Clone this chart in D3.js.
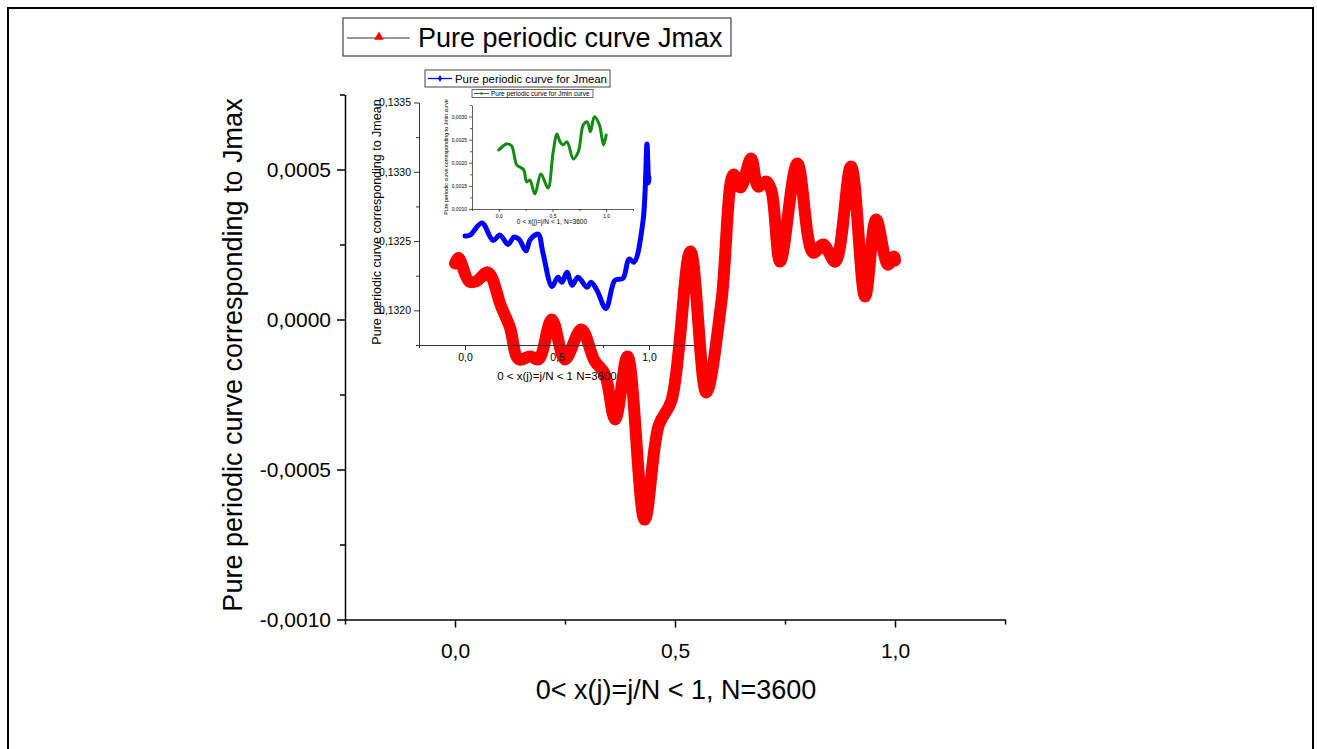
<!DOCTYPE html>
<html><head><meta charset="utf-8">
<script src="https://cdn.jsdelivr.net/npm/d3@7"></script>
<style>
body{margin:0;background:#fff}
svg{display:block}
text{font-family:"Liberation Sans",Arial,sans-serif;fill:#000}
</style>
</head><body>
<svg id="chart" width="1317" height="749"></svg>
<script>
// ---------- data ----------
const jmaxX = [0, 0.008, 0.032, 0.048, 0.075, 0.104, 0.125, 0.145, 0.171, 0.19, 0.22, 0.25, 0.287, 0.317, 0.34, 0.364, 0.392, 0.431, 0.463, 0.492, 0.535, 0.571, 0.605, 0.633, 0.649, 0.673, 0.689, 0.707, 0.719, 0.739, 0.778, 0.814, 0.837, 0.864, 0.9, 0.932, 0.957, 0.984, 0.998, 1.0];
const jmaxY = [0.000187, 0.000205, 0.000127, 0.000127, 0.000157, 0.000047, -0.000027, -0.000133, -0.000123, -0.000133, 0.0, -0.000133, -0.000033, -0.000137, -0.00018, -0.000333, -0.000123, -0.000667, -0.000353, -0.00027, 0.000227, -0.000243, 0.000053, 0.000483, 0.00044, 0.000537, 0.000443, 0.00046, 0.00043, 0.000193, 0.00052, 0.000223, 0.00025, 0.000193, 0.00051, 0.000077, 0.000333, 0.000183, 0.00021, 0.000197];

const jmeanX = [0, 0.027, 0.092, 0.152, 0.19, 0.234, 0.266, 0.293, 0.332, 0.353, 0.397, 0.424, 0.473, 0.505, 0.527, 0.554, 0.582, 0.614, 0.663, 0.685, 0.717, 0.766, 0.815, 0.859, 0.891, 0.918, 0.967, 0.989, 0.994, 0.998, 1.0];
const jmeanY = [0.132536, 0.132543, 0.13263, 0.132505, 0.132543, 0.132476, 0.132529, 0.132514, 0.13243, 0.132507, 0.13255, 0.132413, 0.132172, 0.132239, 0.132203, 0.132275, 0.132181, 0.132239, 0.132167, 0.132203, 0.132145, 0.132014, 0.132217, 0.132232, 0.13237, 0.132348, 0.132638, 0.1332, 0.13305, 0.13292, 0.13296];

const jminX = [0, 0.054, 0.082, 0.119, 0.166, 0.195, 0.232, 0.26, 0.289, 0.336, 0.392, 0.458, 0.505, 0.542, 0.57, 0.599, 0.636, 0.693, 0.74, 0.787, 0.824, 0.853, 0.89, 0.937, 0.975, 1.0];
const jminY = [0.002279, 0.002387, 0.002409, 0.002365, 0.001953, 0.00191, 0.001845, 0.001585, 0.001628, 0.001325, 0.001758, 0.001455, 0.002213, 0.002625, 0.002452, 0.002387, 0.002452, 0.002084, 0.002235, 0.00282, 0.002885, 0.002669, 0.002994, 0.00282, 0.002387, 0.0026];

const xTicks = [0, 0.5, 1];
const xTickLabels = ["0,0", "0,5", "1,0"];
const xMinorTicks = [-0.25, 0.25, 0.75, 1.25];

const mainYTicks = [-0.001, -0.0005, 0, 0.0005];
const mainYTickLabels = ["-0,0010", "-0,0005", "0,0000", "0,0005"];
const mainYMinor = [-0.00075, -0.00025, 0.00025, 0.00075];

const jmeanYTicks = [0.132, 0.1325, 0.133, 0.1335];
const jmeanYTickLabels = ["0,1320", "0,1325", "0,1330", "0,1335"];
const jmeanYMinor = [0.13175, 0.13225, 0.13275, 0.13325];

const jminYTicks = [0.001, 0.0015, 0.002, 0.0025, 0.003];
const jminYTickLabels = ["0,0010", "0,0015", "0,0020", "0,0025", "0,0030"];
const jminYMinor = [0.00125, 0.00175, 0.00225, 0.00275, 0.00325];

// ---------- drawing ----------
const svg = d3.select("#chart");
svg.append("rect").attr("x", 0).attr("y", 0).attr("width", 1317).attr("height", 749).attr("fill", "#fff");
svg.append("rect").attr("x", 8).attr("y", 8).attr("width", 1305).attr("height", 770)
  .attr("fill", "none").attr("stroke", "#000").attr("stroke-width", 2);

function axes(g, x, y, o) {
  const [x0] = x.range(); const [y0] = y.range();
  const bx = g.append("g").attr("transform", `translate(0,${y0})`)
    .call(d3.axisBottom(x).tickValues(o.xt).tickFormat((d, i) => o.xl[i])
      .tickSize(o.major).tickSizeOuter(0).tickPadding(o.xpad));
  const bxm = g.append("g").attr("transform", `translate(0,${y0})`)
    .call(d3.axisBottom(x).tickValues(o.xm).tickFormat("").tickSize(o.minor).tickSizeOuter(0));
  const ly = g.append("g").attr("transform", `translate(${x0},0)`)
    .call(d3.axisLeft(y).tickValues(o.yt).tickFormat((d, i) => o.yl[i])
      .tickSize(o.major).tickSizeOuter(0).tickPadding(o.ypad));
  const lym = g.append("g").attr("transform", `translate(${x0},0)`)
    .call(d3.axisLeft(y).tickValues(o.ym).tickFormat("").tickSize(o.minor).tickSizeOuter(0));
  [bx, bxm, ly, lym].forEach(a => {
    a.selectAll("path,line").attr("stroke", o.color).attr("stroke-width", o.sw);
    a.selectAll("text").attr("font-size", o.fs).attr("font-family", '"Liberation Sans",Arial,sans-serif').attr("fill", o.tcolor || "#000");
  });
  bxm.select(".domain").remove(); lym.select(".domain").remove();
}

function line(x, y) {
  return d3.line().x(d => x(d[0])).y(d => y(d[1])).curve(d3.curveCatmullRom.alpha(0.5));
}

// ---------- main chart ----------
const mx = d3.scaleLinear().domain([-0.25, 1.25]).range([345, 1005]);
const my = d3.scaleLinear().domain([-0.001, 0.00075]).range([619.5, 94.5]);
const gMain = svg.append("g");
axes(gMain, mx, my, {xt: xTicks, xl: xTickLabels, xm: xMinorTicks, yt: mainYTicks, yl: mainYTickLabels, ym: mainYMinor,
  major: 8, minor: 5, xpad: 16, ypad: 6, fs: 21, color: "#000", sw: 1.5});

svg.append("text").attr("transform", "translate(242,355) rotate(-90)").attr("text-anchor", "middle")
  .attr("font-size", 27).text("Pure periodic curve corresponding to Jmax");
svg.append("text").attr("x", 676).attr("y", 699).attr("text-anchor", "middle")
  .attr("font-size", 27).text("0< x(j)=j/N < 1, N=3600");

const jmax = jmaxX.map((v, i) => [v, jmaxY[i]]);
svg.append("path").attr("d", line(mx, my)(jmax)).attr("fill", "none").attr("stroke", "#ff0000")
  .attr("stroke-width", 12).attr("stroke-linejoin", "round").attr("stroke-linecap", "round");

// main legend
svg.append("rect").attr("x", 343).attr("y", 18).attr("width", 388).attr("height", 38)
  .attr("fill", "#fff").attr("stroke", "#444").attr("stroke-width", 1.2);
svg.append("line").attr("x1", 347).attr("x2", 410).attr("y1", 38).attr("y2", 38).attr("stroke", "#333").attr("stroke-width", 1);
svg.append("path").attr("d", d3.symbol(d3.symbolTriangle, 40)()).attr("transform", "translate(379,37)").attr("fill", "#ff0000");
svg.append("text").attr("x", 418).attr("y", 47).attr("font-size", 27).text("Pure periodic curve Jmax");

// ---------- Jmean inset ----------
const bx = d3.scaleLinear().domain([-0.25, 1.25]).range([419, 695]);
const by = d3.scaleLinear().domain([0.13175, 0.1335]).range([345, 102.5]);
const gB = svg.append("g");
axes(gB, bx, by, {xt: xTicks, xl: xTickLabels, xm: xMinorTicks, yt: jmeanYTicks, yl: jmeanYTickLabels, ym: jmeanYMinor,
  major: 5, minor: 3, xpad: 4, ypad: 3, fs: 10.5, color: "#333", sw: 1});
svg.append("text").attr("transform", "translate(381,222) rotate(-90)").attr("text-anchor", "middle")
  .attr("font-size", 12.5).text("Pure periodic curve corresponding to Jmean");
svg.append("text").attr("x", 557).attr("y", 380).attr("text-anchor", "middle")
  .attr("font-size", 11.5).text("0 < x(j)=j/N < 1 N=3600");
const jmean = jmeanX.map((v, i) => [v, jmeanY[i]]);
svg.append("path").attr("d", line(bx, by)(jmean)).attr("fill", "none").attr("stroke", "#0000ff")
  .attr("stroke-width", 5).attr("stroke-linejoin", "round").attr("stroke-linecap", "round");

svg.append("rect").attr("x", 425).attr("y", 70).attr("width", 185).attr("height", 17)
  .attr("fill", "#fff").attr("stroke", "#444").attr("stroke-width", 1);
svg.append("line").attr("x1", 428).attr("x2", 452).attr("y1", 78.5).attr("y2", 78.5).attr("stroke", "#0000ff").attr("stroke-width", 1.3);
svg.append("path").attr("d", d3.symbol(d3.symbolDiamond, 14)()).attr("transform", "translate(440,78.5)").attr("fill", "#0000ff");
svg.append("text").attr("x", 455).attr("y", 83).attr("font-size", 11.4).text("Pure periodic curve for Jmean");

// ---------- Jmin inset ----------
const gx = d3.scaleLinear().domain([-0.25, 1.25]).range([472, 633]);
const gy = d3.scaleLinear().domain([0.001, 0.00325]).range([209, 105]);
const gG = svg.append("g");
axes(gG, gx, gy, {xt: xTicks, xl: xTickLabels, xm: xMinorTicks, yt: jminYTicks, yl: jminYTickLabels, ym: jminYMinor,
  major: 3, minor: 2, xpad: 2, ypad: 2, fs: 5, color: "#333", sw: 0.8, tcolor: "#333"});
svg.append("text").attr("transform", "translate(448,157) rotate(-90)").attr("text-anchor", "middle")
  .attr("font-size", 5.4).attr("fill", "#333").text("Pure periodic curve corresponding to Jmin curve");
svg.append("text").attr("x", 552).attr("y", 224).attr("text-anchor", "middle")
  .attr("font-size", 6.6).attr("fill", "#333").text("0 < x(j)=j/N < 1, N=3600");
const jmin = jminX.map((v, i) => [v, jminY[i]]);
svg.append("path").attr("d", line(gx, gy)(jmin)).attr("fill", "none").attr("stroke", "#138a13")
  .attr("stroke-width", 3).attr("stroke-linejoin", "round").attr("stroke-linecap", "round");

svg.append("rect").attr("x", 472).attr("y", 89.5).attr("width", 121).attr("height", 8)
  .attr("fill", "#fff").attr("stroke", "#444").attr("stroke-width", 0.8);
svg.append("line").attr("x1", 474).attr("x2", 489).attr("y1", 93.5).attr("y2", 93.5).attr("stroke", "#222").attr("stroke-width", 0.8);
svg.append("circle").attr("cx", 481.5).attr("cy", 93.5).attr("r", 1.3).attr("fill", "#138a13");
svg.append("text").attr("x", 491).attr("y", 95.8).attr("font-size", 6.5).text("Pure periodic curve for Jmin curve");
</script>
</body></html>
